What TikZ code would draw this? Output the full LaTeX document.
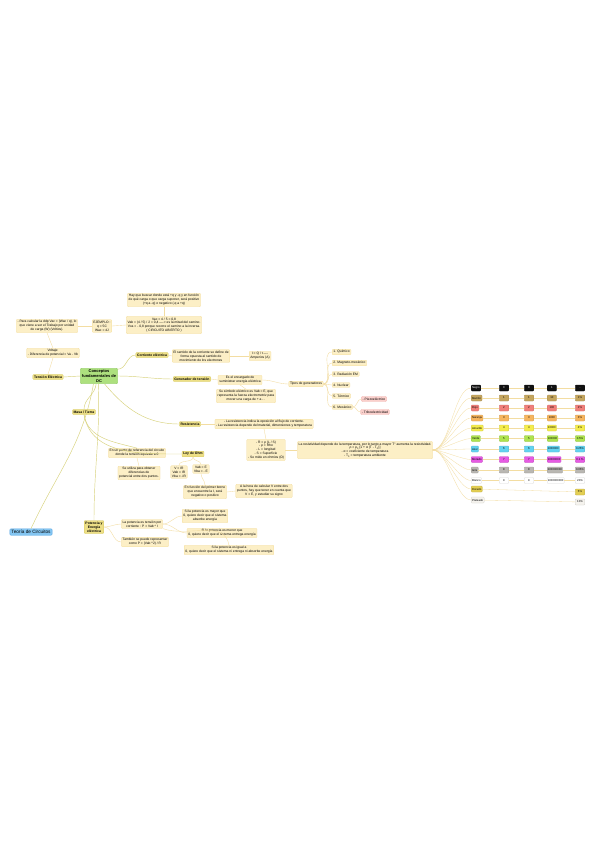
\documentclass[tikz,border=0pt]{standalone}
\usepackage{fontspec}
\setmainfont{Liberation Sans}
\usetikzlibrary{positioning}
\definecolor{leaffill}{HTML}{FCEFC6}
\definecolor{leafline}{HTML}{F3DC98}
\definecolor{topicfill}{HTML}{EDDF86}
\definecolor{topicline}{HTML}{D6C860}
\definecolor{centrefill}{HTML}{ADE07E}
\definecolor{centreline}{HTML}{82C350}
\definecolor{rootfill}{HTML}{84C6F2}
\definecolor{rootline}{HTML}{56A6E4}
\definecolor{pinkfill}{HTML}{FBD0CC}
\definecolor{pinkline}{HTML}{F0A9A3}
\definecolor{mainline}{HTML}{D8D27C}
\definecolor{subline}{HTML}{F3DDA2}
\definecolor{cNegro}{HTML}{111111}
\definecolor{cMarron}{HTML}{C4A55E}
\definecolor{cRojo}{HTML}{F07F7A}
\definecolor{cNaranja}{HTML}{F6B55E}
\definecolor{cAmarillo}{HTML}{F4EC4C}
\definecolor{cVerde}{HTML}{AEE34F}
\definecolor{cAzul}{HTML}{62D3F0}
\definecolor{cMorado}{HTML}{E65BE3}
\definecolor{cGris}{HTML}{B9B7B2}
\definecolor{cBlanco}{HTML}{FFFFFF}
\definecolor{cDorado}{HTML}{E3CE52}
\definecolor{cPlata}{HTML}{F5F3EE}
\newcommand\leaffont{\fontsize{6.6}{7.8}\selectfont}
\newcommand\topicfont{\fontsize{6.8}{8}\selectfont\bfseries}
\newcommand\cellfont{\fontsize{5.6}{6.4}\selectfont}

\begin{document}
\begin{tikzpicture}[x=2pt,y=2pt,
    leaf/.style={draw=leafline,fill=leaffill,rounded corners=1.8pt,line width=0.5pt,
        inner sep=2.5pt,align=center,font=\leaffont},
    topic/.style={leaf,draw=topicline,fill=topicfill,font=\topicfont},
    pinkleaf/.style={leaf,draw=pinkline,fill=pinkfill},
    centre/.style={leaf,draw=centreline,fill=centrefill,line width=0.7pt,
        font=\fontsize{8}{9.6}\selectfont\bfseries,inner sep=3pt},
    rootnode/.style={leaf,draw=rootline,fill=rootfill,line width=0.7pt,
        font=\fontsize{9.4}{11}\selectfont,inner sep=3pt},
    colorlabel/.style={leaf,anchor=west,font=\cellfont,minimum height=12pt,inner sep=2pt},
    cell/.style={leaf,font=\cellfont,minimum height=12pt,minimum width=19pt,inner sep=1.5pt},
    mainbranch/.style={draw=mainline,line width=0.9pt},
    subbranch/.style={draw=subline,line width=0.75pt},
    tableline/.style={draw=subline,line width=0.6pt}]
\fill[white] (0,0) rectangle (599,-848);
\useasboundingbox (0,0) rectangle (599,-848);

% centre and root
\node[rootnode] (root) at (31,-532) {Teoría de Circuitos};
\node[centre] (concept) at (99,-376) {Conceptos\\fundamentales de\\DC};

% tension electrica
\node[topic] (tension) at (48,-377) {Tensión Eléctrica};
\node[leaf] (voltaje) at (53,-353) {Voltaje:\\- Diferencia de potencial = Va - Vb};
\node[leaf] (calcular) at (47,-326) {- Para calcular la ddp Vac = (Wac / q), lo\\que viene a ser el Trabajo por unidad\\de carga (W) (Voltios).};
\node[leaf] (ejemplo) at (102,-326) {EJEMPLO :\\q = 5C\\Wac = 4J};
\node[leaf] (buscar) at (164,-300) {Hay que buscar donde está +q y -q y en función\\de qué carga o que carga suponer, será positivo\\(+q a -q) o negativo (-q a +q)};
\node[leaf] (vac) at (164,-325) {Vac = 4 / 5 = 0,8\\Vab = (4 / 5) / 2 = 0,4 ----> es la mitad del camino.\\Vca = - 0,8 porque recorre el camino a la inversa.\\( CIRCUITO ABIERTO )};

% corriente y generador
\node[topic] (corriente) at (152,-355) {Corriente eléctrica};
\node[leaf] (sentido) at (201,-356) {El sentido de la corriente se define de\\forma opuesta al sentido de\\movimiento de los electrones};
\node[leaf] (iqt) at (260,-356) {I = Q / t ----\\Amperios (A)};
\node[topic] (generador) at (192,-379) {Generador de tensión};
\node[leaf] (encargado) at (240,-380) {Es el encargado de\\suministrar energía eléctrica};
\node[leaf] (simbolo) at (246,-396) {Su símbolo eléctrico es Vab = E, que\\representa la fuerza electromotriz para\\mover una carga de + a - .};
\node[leaf] (tipos) at (306,-384) {Tipos de generadores};
\foreach \g/\gtext/\gy in {1/1. Químico/352, 2/2. Magneto-mecánico/363, 3/3. Radiación EM/374,
        4/4. Nuclear/385, 5/5. Térmico/396, 6/6. Mecánico/407}
    \node[leaf,anchor=west] (gen\g) at (332,-\gy) {\gtext};
\node[pinkleaf] (piezo) at (374,-399) {- Piezoeléctrico};
\node[pinkleaf] (tribo) at (375,-412) {- Triboelectricidad};

% resistencia
\node[topic] (resistencia) at (190,-424) {Resistencia};
\node[leaf] (resdesc) at (264,-424) {- La resistencia indica la oposición al flujo de corriente.\\- La resistencia depende del material, dimensiones y temperatura};
\node[leaf] (rform) at (266,-450) {- R = ρ (L / S)\\- ρ = Rho\\- L = longitud\\- S = Superficie\\- Se mide en ohmios (Ω)};
\node[leaf] (resist) at (365,-450) {La resistividad depende de la temperatura, por lo tanto a mayor T° aumenta la resistividad.\\ρ = ρ\textsubscript{0} [1 + α (T - T\textsubscript{0})]\\- α = coeficiente de temperatura\\- T\textsubscript{0} = temperatura ambiente};

% masa y ley de ohm
\node[topic] (masa) at (84,-412) {Masa / Tierra};
\node[leaf] (punto) at (137,-453) {En un punto de referencia del circuito\\donde la tensión equivale a 0};
\node[leaf] (utiliza) at (139,-473) {Se utiliza para obtener\\diferencias de\\potencial entre dos puntos.};
\node[topic] (ohm) at (193,-454) {Ley de Ohm};
\node[leaf] (vir) at (179,-472) {V = IR\\Vab = IR\\Vba = -IR};
\node[leaf] (vabe) at (201,-469) {Vab = E\\Vba = - E};
\node[leaf] (funcion) at (205,-492) {En función del primer borne\\que encuentre la I, será\\negativo o positivo};
\node[leaf] (hora) at (264,-491) {A la hora de calcular V entre dos\\puntos, hay que tener en cuenta que\\V = E, y estudiar su signo};

% potencia
\node[topic] (potencia) at (94,-527) {Potencia y\\Energía\\eléctrica};
\node[leaf] (ptension) at (142,-524) {La potencia es tensión por\\corriente : P = Vab * I};
\node[leaf] (tambien) at (145,-542) {También se puede representar\\como P = (Vab \^{}2) / R};
\node[leaf] (mayor) at (205,-516) {Si la potencia es mayor que\\0, quiere decir que el sistema\\absorbe energía};
\node[leaf] (menor) at (222,-533) {Si la potencia es menor que\\0, quiere decir que el sistema entrega energía};
\node[leaf] (igual) at (229,-550) {Si la potencia es igual a\\0, quiere decir que el sistema ni entrega ni absorbe energía};

% codigo de colores
\foreach \cname/\cfill/\ctext/\dig/\mult/\tol/\yy in {
        Negro/cNegro/white/0/1/-/388,
        Marrón/cMarron/black/1/10/1\%/398,
        Rojo/cRojo/black/2/100/2\%/408,
        Naranja/cNaranja/black/3/1000/3\%/418,
        Amarillo/cAmarillo/black/4/10000/4\%/428,
        Verde/cVerde/black/5/100000/0.5\%/438.5,
        Azul/cAzul/black/6/1000000/0.25\%/449,
        Morado/cMorado/black/7/10000000/0.1 \%/459.5,
        Gris/cGris/black/8/100000000/0.05\%/470,
        Blanco/cBlanco/black/9/1000000000/20\%/480.5}
{
    \node[colorlabel,fill=\cfill,draw=\cfill!85!black,text=\ctext] (lab\dig) at (471,-\yy) {\cname};
    \node[cell,fill=\cfill,draw=\cfill!85!black,text=\ctext] (dA\dig) at (504,-\yy) {\dig};
    \node[cell,fill=\cfill,draw=\cfill!85!black,text=\ctext] (dB\dig) at (529,-\yy) {\dig};
    \node[cell,anchor=west,fill=\cfill,draw=\cfill!85!black,text=\ctext] (mult\dig) at (547,-\yy) {\mult};
    \node[cell,fill=\cfill,draw=\cfill!85!black,text=\ctext] (tol\dig) at (580,-\yy) {\tol};
    \draw[tableline] (resist.east) to[out=0,in=180,looseness=0.6] (lab\dig.west);
    \draw[tableline] (lab\dig) -- (dA\dig) -- (dB\dig) -- (mult\dig) -- (tol\dig);
}
\node[colorlabel,fill=cDorado,draw=cDorado!85!black] (labD) at (471,-489) {Dorado};
\node[cell,fill=cDorado,draw=cDorado!85!black] (tolD) at (580,-492) {5\%};
\node[colorlabel,fill=cPlata,draw=cPlata!85!black] (labP) at (471,-500) {Plateado};
\node[cell,fill=cPlata,draw=cPlata!85!black] (tolP) at (580,-502) {10\%};
\draw[tableline] (resist.east) to[out=0,in=180,looseness=0.6] (labD.west);
\draw[tableline] (resist.east) to[out=0,in=180,looseness=0.6] (labP.west);
\draw[tableline] (labD) -- (tolD);
\draw[tableline] (labP) -- (tolP);

% main branches
\draw[mainbranch] (root.north) to[out=65,in=-100] (concept.235);
\draw[mainbranch] (concept.west) -- (tension.east);
\draw[mainbranch] (concept.20) to[out=0,in=180] (corriente.west);
\draw[mainbranch] (concept.east) to[out=0,in=180] (generador.west);
\draw[mainbranch] (concept.305) to[out=-50,in=180] (resistencia.west);
\draw[mainbranch] (concept.250) to[out=-95,in=90] (masa.north);
\draw[mainbranch] (concept.265) to[out=-88,in=90] (potencia.north);
\draw[mainbranch] (masa.south) to[out=-80,in=165] (punto.north);
\draw[mainbranch] (masa.south) to[out=-80,in=180] (ohm.west);

% sub branches
\draw[subbranch] (tension.north) -- (voltaje.south);
\draw[subbranch] (voltaje.north) -- (calcular.south);
\draw[subbranch] (calcular.east) -- (ejemplo.west);
\draw[subbranch] (ejemplo.east) -- (vac.west);
\draw[subbranch] (vac.north) -- (buscar.south);
\draw[subbranch] (corriente.east) -- (sentido.west);
\draw[subbranch] (sentido.east) -- (iqt.west);
\draw[subbranch] (generador.east) -- (encargado.west);
\draw[subbranch] (encargado.south) -- (simbolo.north);
\draw[subbranch] (encargado.east) to[out=0,in=180] (tipos.west);
\foreach \g in {1,...,6}
    \draw[subbranch] (tipos.east) to[out=0,in=180] (gen\g.west);
\draw[subbranch] (gen6.east) to[out=0,in=180] (piezo.west);
\draw[subbranch] (gen6.east) to[out=0,in=180] (tribo.west);
\draw[subbranch] (resistencia.east) -- (resdesc.west);
\draw[subbranch] (resdesc.south) -- (rform.north);
\draw[subbranch] (rform.east) -- (resist.west);
\draw[subbranch] (punto.south) -- (utiliza.north);
\draw[subbranch] (ohm.south) to[out=-90,in=90] (vir.north);
\draw[subbranch] (ohm.south) to[out=-90,in=90] (vabe.north);
\draw[subbranch] (vabe.south) to[out=-90,in=90] (funcion.north);
\draw[subbranch] (funcion.east) -- (hora.west);
\draw[subbranch] (potencia.east) to[out=0,in=180] (ptension.west);
\draw[subbranch] (potencia.east) to[out=0,in=180] (tambien.west);
\draw[subbranch] (ptension.east) to[out=0,in=180] (mayor.west);
\draw[subbranch] (ptension.east) to[out=0,in=180] (menor.west);
\draw[subbranch] (ptension.south east) to[out=-20,in=100] (igual.north);
\end{tikzpicture}
\end{document}
